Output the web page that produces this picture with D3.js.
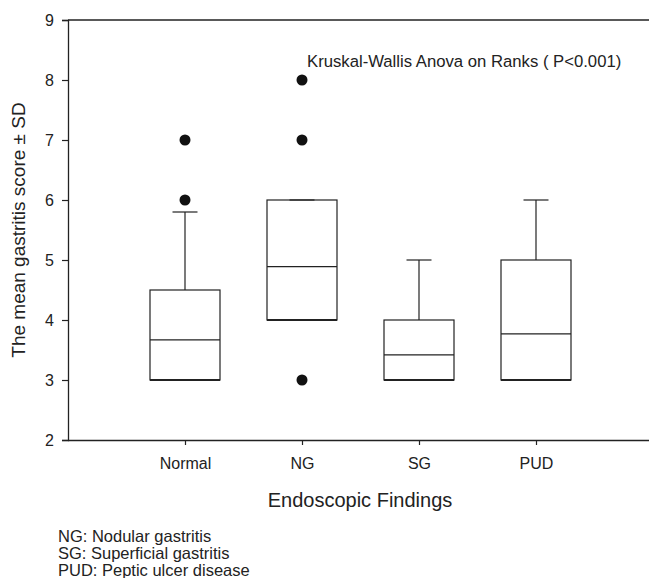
<!DOCTYPE html>
<html>
<head>
<meta charset="utf-8">
<script src="https://cdn.jsdelivr.net/npm/d3@7"></script>
<style>
  body { margin: 0; background: #fff; }
  svg { font-family: "Liberation Sans", Arial, sans-serif; }
</style>
</head>
<body>
<svg id="chart"></svg>
<script>
// box plot data
const categories = ["Normal", "NG", "SG", "PUD"];
const whiskerLow = [3, 4, 3, 3];
const q1 = [3, 4, 3, 3];
const medians = [3.67, 4.89, 3.42, 3.77];
const q3 = [4.5, 6, 4, 5];
const whiskerHigh = [5.8, 6, 5, 6];
// outliers as [category index, value]
const outliers = [[0, 7], [0, 6], [1, 8], [1, 7], [1, 3]];
const yTicks = [2, 3, 4, 5, 6, 7, 8, 9];
const footnotes = ["NG: Nodular gastritis", "SG: Superficial gastritis", "PUD: Peptic ulcer disease"];

const width = 649;
const height = 578;
const MARGINS = { top: 20, left: 68, bottom: 138 };

const svg = d3.select("#chart").attr("width", width).attr("height", height);

// categories sit at 1..4 on a 0..5 axis, the axis runs off the right edge
const x = d3.scaleLinear().domain([0, 5]).range([MARGINS.left, 653]);
const y = d3.scaleLinear().domain([2, 9]).range([height - MARGINS.bottom, MARGINS.top]);

const ink = "#222";
const boxWidth = 70;
const capWidth = 25;

// top frame line
svg.append("line")
  .attr("x1", x(0)).attr("x2", width)
  .attr("y1", y(9)).attr("y2", y(9))
  .attr("stroke", ink).attr("stroke-width", 1.3);

// y axis
const yAxis = svg.append("g")
  .attr("transform", `translate(${x(0)},0)`)
  .call(d3.axisLeft(y).tickValues(yTicks).tickSize(6).tickPadding(8).tickFormat(d3.format("d")));

// x axis
const xAxis = svg.append("g")
  .attr("transform", `translate(0,${y(2)})`)
  .call(d3.axisBottom(x).tickValues([1, 2, 3, 4]).tickSize(5).tickPadding(13)
    .tickFormat((d) => categories[d - 1]));

[yAxis, xAxis].forEach((g) => {
  g.select(".domain").attr("stroke", ink).attr("stroke-width", 1.3);
  g.selectAll(".tick line").attr("stroke", ink).attr("stroke-width", 1.2);
  g.selectAll(".tick text").attr("fill", "#222").attr("font-size", 16)
    .attr("font-family", "Liberation Sans, Arial, sans-serif");
});
xAxis.select(".domain").attr("d", `M${x(0)},0.5H${width}`);

const boxes = svg.append("g").attr("fill", "none").attr("stroke", ink).attr("stroke-width", 1.2);

categories.forEach((c, i) => {
  const cx = x(i + 1);
  // whiskers
  boxes.append("line").attr("x1", cx).attr("x2", cx).attr("y1", y(q3[i])).attr("y2", y(whiskerHigh[i]));
  boxes.append("line").attr("x1", cx).attr("x2", cx).attr("y1", y(q1[i])).attr("y2", y(whiskerLow[i]));
  boxes.append("line").attr("x1", cx - capWidth / 2).attr("x2", cx + capWidth / 2)
    .attr("y1", y(whiskerHigh[i])).attr("y2", y(whiskerHigh[i]));
  boxes.append("line").attr("x1", cx - capWidth / 2).attr("x2", cx + capWidth / 2)
    .attr("y1", y(whiskerLow[i])).attr("y2", y(whiskerLow[i]));
  // box
  boxes.append("rect")
    .attr("x", cx - boxWidth / 2).attr("width", boxWidth)
    .attr("y", y(q3[i])).attr("height", y(q1[i]) - y(q3[i]));
  // bottom edge a bit heavier, as in the original
  boxes.append("line").attr("x1", cx - boxWidth / 2).attr("x2", cx + boxWidth / 2)
    .attr("y1", y(q1[i])).attr("y2", y(q1[i])).attr("stroke-width", 2);
  boxes.append("line").attr("x1", cx - boxWidth / 2).attr("x2", cx + boxWidth / 2)
    .attr("y1", y(medians[i])).attr("y2", y(medians[i]));
});

svg.append("g").selectAll("circle")
  .data(outliers)
  .join("circle")
  .attr("cx", (d) => x(d[0] + 1))
  .attr("cy", (d) => y(d[1]))
  .attr("r", 5.5)
  .attr("fill", "#111");

svg.append("text")
  .attr("x", 307).attr("y", 67)
  .attr("font-size", 16.7).attr("fill", "#222")
  .text("Kruskal-Wallis Anova on Ranks ( P<0.001)");

svg.append("text")
  .attr("transform", `translate(25,${(y(2) + y(9)) / 2}) rotate(-90)`)
  .attr("text-anchor", "middle")
  .attr("font-size", 19).attr("fill", "#222")
  .text("The mean gastritis score \u00b1 SD");

svg.append("text")
  .attr("x", 360).attr("y", 507)
  .attr("text-anchor", "middle")
  .attr("font-size", 20).attr("fill", "#222")
  .text("Endoscopic Findings");

svg.append("g").selectAll("text")
  .data(footnotes)
  .join("text")
  .attr("x", 58)
  .attr("y", (d, i) => 542 + i * 17)
  .attr("font-size", 16.5).attr("fill", "#222")
  .text((d) => d);
</script>
</body>
</html>
